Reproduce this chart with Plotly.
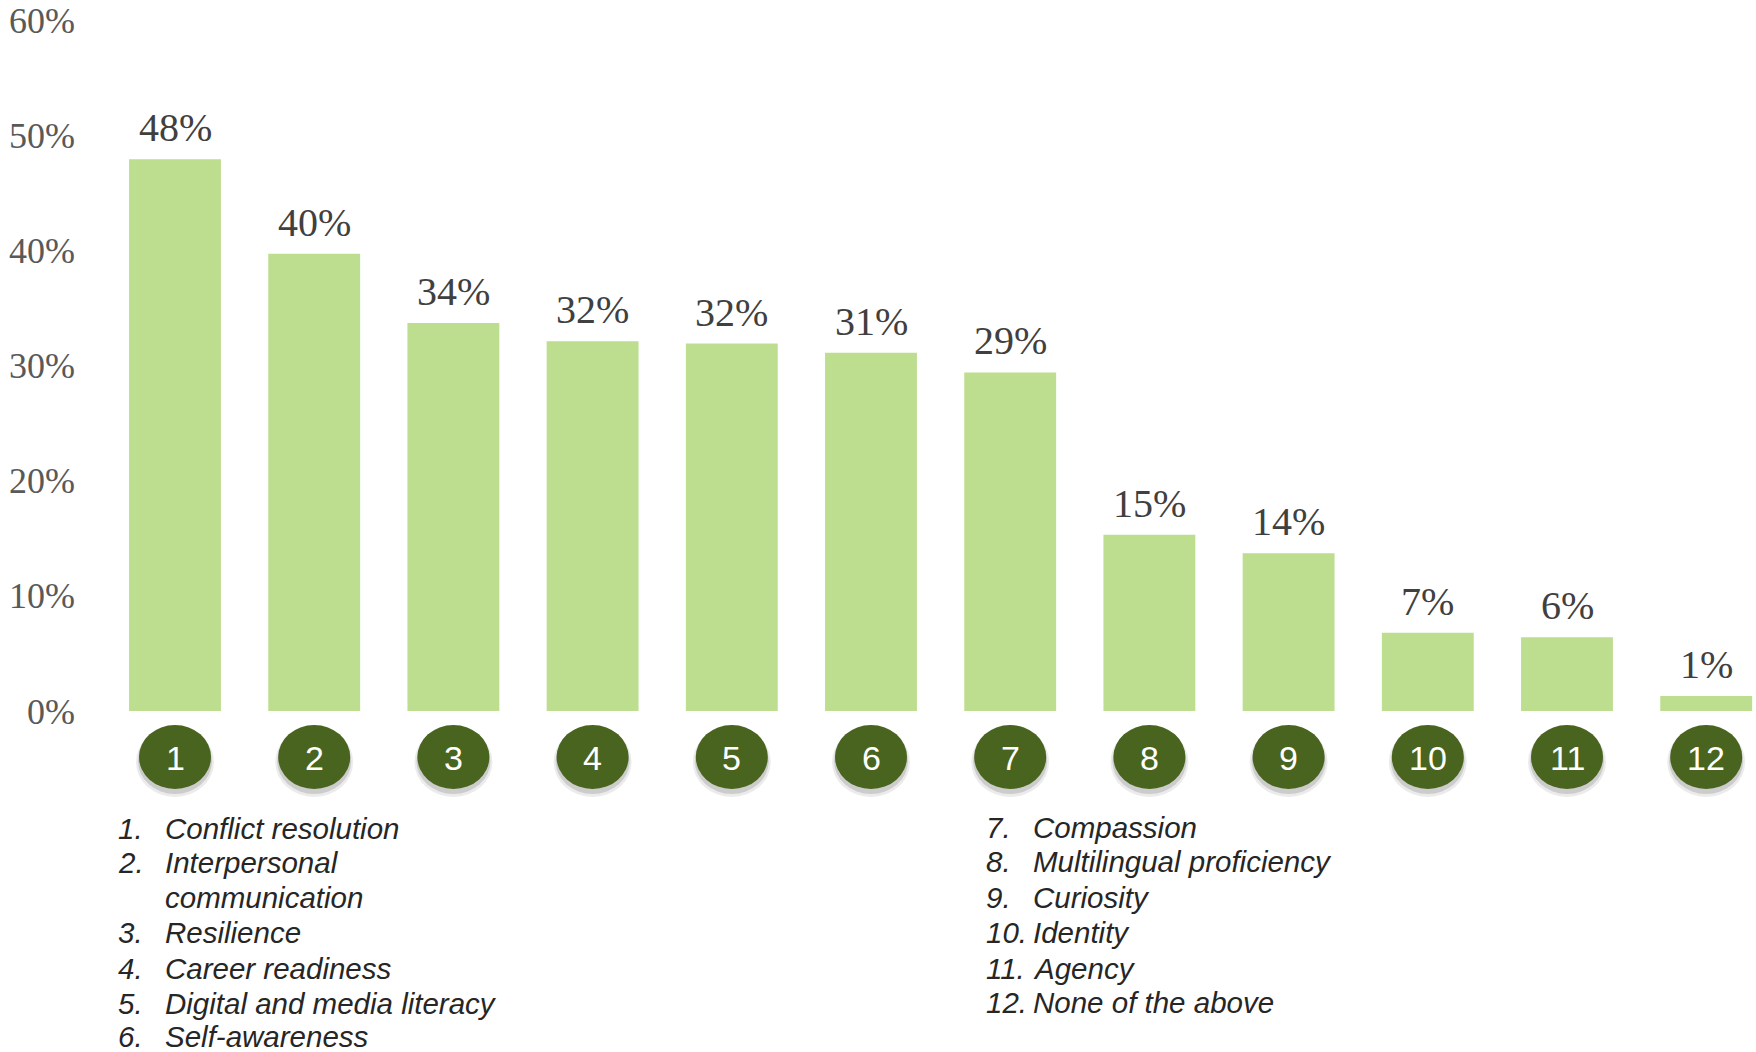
import plotly.graph_objects as go

# ---- data ----
categories = [str(i) for i in range(1, 13)]
values = [47.9, 39.7, 33.7, 32.1, 31.9, 31.1, 29.4, 15.3, 13.7, 6.8, 6.4, 1.3]
skill_names = [
    "Conflict resolution",
    "Interpersonal<br>communication",
    "Resilience",
    "Career readiness",
    "Digital and media literacy",
    "Self-awareness",
    "Compassion",
    "Multilingual proficiency",
    "Curiosity",
    "Identity",
    "Agency",
    "None of the above",
]
y_ticks = [0, 10, 20, 30, 40, 50, 60]
y_tick_labels = [f"{t}%" for t in y_ticks]

# ---- layout geometry (pixels) ----
W, H = 1756, 1052
PL, PR, PT, PB = 100, 1756, 20, 711  # plot area edges
PW, PH = PR - PL, PB - PT


def px_to_paper_x(px):
    return (px - PL) / PW


def px_to_paper_y(py):
    return (PB - py) / PH


BAR_COLOR = "#BDDD8F"
CIRCLE_COLOR = "#49641F"
SERIF = "Liberation Serif, Times New Roman, serif"
SANS = "Liberation Sans, Arial, sans-serif"

x_idx = list(range(len(categories)))

fig = go.Figure()
fig.add_trace(go.Bar(
    x=x_idx, y=values, width=0.66,
    marker=dict(color=BAR_COLOR, line=dict(width=0)),
    hoverinfo="skip", showlegend=False,
))

shapes = []
cy_paper = px_to_paper_y(757)
for i in x_idx:
    # soft shadow
    for dy, alpha, grow in [(5, 0.08, 3), (4, 0.13, 1)]:
        shapes.append(dict(
            type="circle", xref="x", yref="paper", layer="above",
            xsizemode="pixel", ysizemode="pixel", xanchor=i, yanchor=cy_paper,
            x0=-36 - grow, x1=36 + grow, y0=-32 - grow - dy, y1=32 + grow - dy,
            fillcolor=f"rgba(0,0,0,{alpha})", line=dict(width=0),
        ))
    shapes.append(dict(
        type="circle", xref="x", yref="paper", layer="above",
        xsizemode="pixel", ysizemode="pixel", xanchor=i, yanchor=cy_paper,
        x0=-36, x1=36, y0=-32, y1=32,
        fillcolor=CIRCLE_COLOR, line=dict(width=0),
    ))

annotations = []
# numbers inside circles
for i, c in zip(x_idx, categories):
    annotations.append(dict(
        x=i, y=cy_paper, xref="x", yref="paper", text=c, showarrow=False,
        xanchor="center", yanchor="middle", yshift=-1,
        font=dict(family=SANS, size=34, color="white"),
    ))

# value labels above bars
for i, v in zip(x_idx, values):
    annotations.append(dict(
        x=i, y=v, xref="x", yref="y", text=f"{round(v)}%", showarrow=False,
        yanchor="bottom", xanchor="center", yshift=7,
        font=dict(family=SERIF, size=40, color="#404040"),
    ))

# legend list below
list_font = dict(family=SANS, size=29.5, color="#262626")
left_rows = [828, 862, 932, 968, 1003, 1036]
right_rows = [827, 861, 897, 932, 968, 1002]
row_y = {}
for k, y in enumerate(left_rows):
    row_y[k] = y
for k, y in enumerate(right_rows):
    row_y[6 + k] = y

for k, name in enumerate(skill_names):
    if k < 6:
        num_x, name_x = 116, 163
    else:
        num_x, name_x = 984, 1031
    py = row_y[k]
    annotations.append(dict(
        x=px_to_paper_x(num_x), y=px_to_paper_y(py), xref="paper", yref="paper",
        text=f"<i>{k + 1}.</i>", showarrow=False, xanchor="left", yanchor="middle",
        font=list_font,
    ))
    for j, line in enumerate(name.split("<br>")):
        annotations.append(dict(
            x=px_to_paper_x(name_x), y=px_to_paper_y(py + 35 * j), xref="paper", yref="paper",
            text=f"<i>{line}</i>", showarrow=False, xanchor="left", yanchor="middle",
            font=list_font,
        ))

fig.update_layout(
    width=W, height=H,
    margin=dict(l=PL, r=W - PR, t=PT, b=H - PB, pad=0),
    paper_bgcolor="white", plot_bgcolor="white",
    xaxis=dict(
        range=[(PL - 175) / 139.2, (PR - 175) / 139.2],
        showticklabels=False, showgrid=False, zeroline=False, showline=False, ticks="",
    ),
    yaxis=dict(
        range=[0, 60], tickvals=y_ticks, ticktext=y_tick_labels,
        showgrid=False, zeroline=False, showline=False, ticks="",
        ticklabelstandoff=24,
        tickfont=dict(family=SERIF, size=36, color="#595959"),
    ),
    shapes=shapes, annotations=annotations,
)

fig.write_html(
    "out.html",
    config={"displayModeBar": False},
    post_script="document.body.style.margin='0';document.body.style.overflow='hidden';",
)
